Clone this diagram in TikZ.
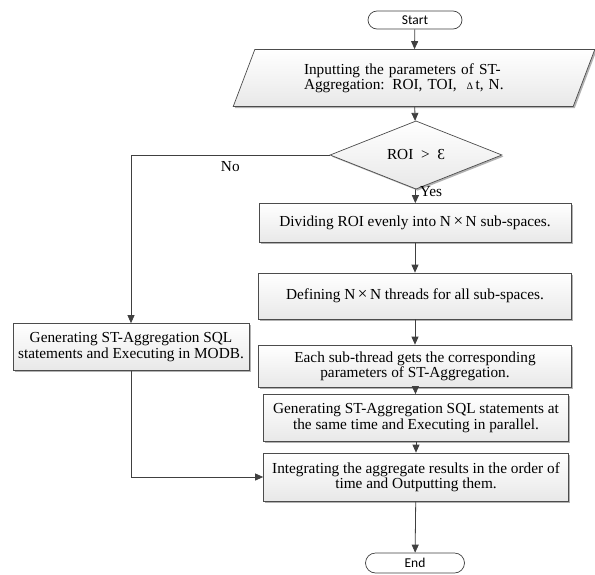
\documentclass[tikz,border=0pt]{standalone}
\usepackage{fontspec}
\setmainfont{Liberation Serif}
\newfontfamily\termfont{Carlito}
\usepackage{tikz}
\usetikzlibrary{arrows.meta, shapes.geometric, shapes.misc, shadows}

\newcommand{\boxfont}{\fontsize{15.3}{15.2}\selectfont}
\newcommand{\bytimes}{\,{\fontsize{17}{15}\selectfont×}\,}

\begin{document}
\begin{tikzpicture}[x=1pt, y=-1pt,
            line/.style={draw=black!75, line width=0.8pt, -{Triangle[width=7pt, length=8pt]}},
            boxshape/.style={draw=black!70, line width=0.7pt, top color=white, bottom color=black!9,
                drop shadow={shadow xshift=1.6pt, shadow yshift=-1.6pt, fill=black!55, opacity=0.55}},
            procbox/.style={boxshape, rectangle, align=center, inner sep=0pt, font=\boxfont},
            termbox/.style={draw=black!75, line width=0.7pt, fill=white, rounded rectangle,
                inner sep=0pt, font=\termfont\fontsize{13.5}{14}\selectfont},
            decbox/.style={boxshape, diamond, inner sep=0pt, font=\boxfont},
            iobox/.style={boxshape, trapezium, trapezium left angle=63, trapezium right angle=117,
                trapezium stretches=true, inner sep=0pt, text width=220pt, align=left, font=\boxfont}]
            \useasboundingbox (0,0) rectangle (595,574);
            \node[termbox, minimum width=94pt, minimum height=18pt] (start) at (415,20) {Start};
            \node[iobox, minimum width=362pt, minimum height=57pt] (input) at (414,78)
                {Inputting the parameters of ST-\\Aggregation: ROI, TOI, \ {\fontsize{10}{15}\selectfont∆}\,t, N.};
            \node[decbox, minimum width=172pt, minimum height=44pt] (check) at (416,155) {ROI \ > \ Ɛ};
            \node[procbox, minimum width=312pt, minimum height=39pt] (divide) at (415,223)
                {Dividing ROI evenly into N\bytimes N sub-spaces.};
            \node[procbox, minimum width=313pt, minimum height=46pt] (threads) at (415,296)
                {Defining N\bytimes N threads for all sub-spaces.};
            \node[procbox, minimum width=313pt, minimum height=42pt] (subthread) at (415,366)
                {Each sub-thread gets the corresponding\\parameters of ST-Aggregation.};
            \node[procbox, minimum width=305pt, minimum height=47pt] (parallel) at (416,418)
                {Generating ST-Aggregation SQL statements at\\the same time and Executing in parallel.};
            \node[procbox, minimum width=305pt, minimum height=48pt] (integrate) at (416,477)
                {Integrating the aggregate results in the order of\\time and Outputting them.};
            \node[procbox, minimum width=236pt, minimum height=47pt] (modb) at (131,347)
                {Generating ST-Aggregation SQL\\statements and Executing in MODB.};
            \node[termbox, minimum width=99pt, minimum height=20pt] (end) at (415,563) {End};
            \draw[line] (start) -- (input);
            \draw[line] (input) -- (check);
            \draw[line] (check) -- node[pos=0.2, right, inner sep=4pt, font=\boxfont] (yes) {Yes} (divide);
            \draw[line] (check.west) -| node[pos=0.25, below=3pt, font=\boxfont] (no) {No} (modb.north);
            \draw[line] (divide) -- (threads);
            \draw[line] (threads) -- (subthread);
            \draw[line] (subthread) -- (parallel);
            \draw[line] (parallel) -- (integrate);
            \draw[line] (modb.south) |- (integrate.west);
            \draw[line] (integrate) -- (end);
        \end{tikzpicture}
\end{document}
